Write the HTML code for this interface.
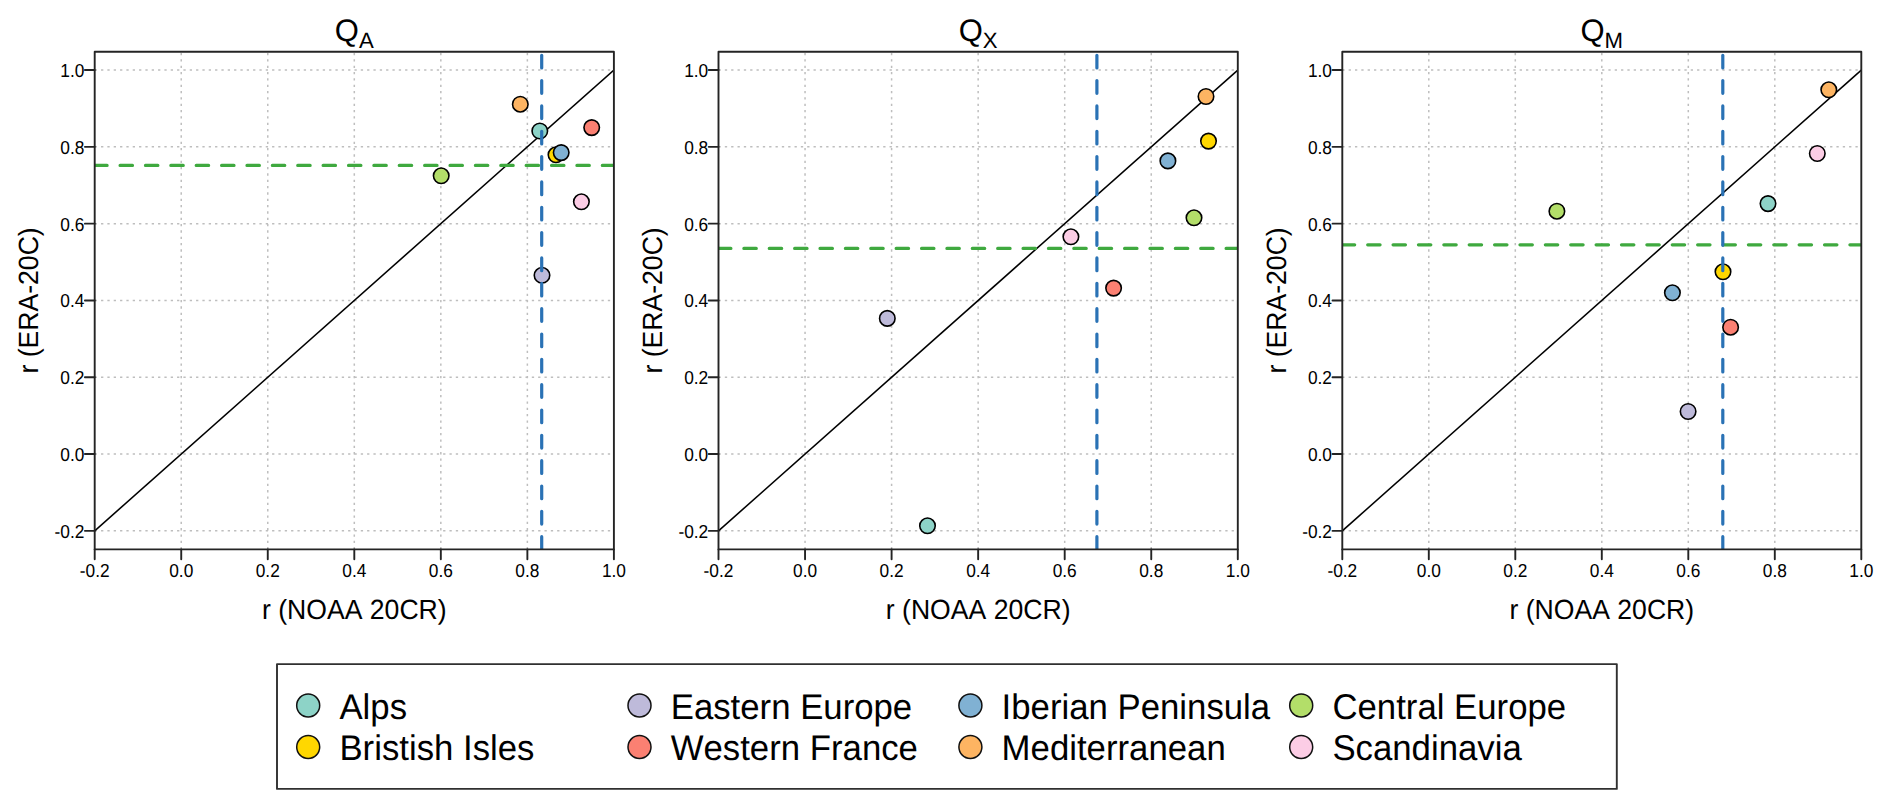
<!DOCTYPE html><html><head><meta charset="utf-8"><title>Correlation of reanalyses: QA, QX, QM</title><style>
html,body{margin:0;padding:0;background:#fff;width:1892px;height:809px;overflow:hidden}
svg{display:block}
text{font-family:"Liberation Sans", Arial, Helvetica, sans-serif;fill:#000;text-rendering:geometricPrecision;font-kerning:none;font-variant-ligatures:none}
</style></head><body>
<svg width="1892" height="809" viewBox="0 0 1892 809">
<defs>
<clipPath id="c0"><rect x="94.70" y="51.70" width="519.20" height="497.70"/></clipPath>
<clipPath id="c1"><rect x="718.50" y="51.70" width="519.30" height="497.70"/></clipPath>
<clipPath id="c2"><rect x="1342.30" y="51.70" width="519.00" height="497.70"/></clipPath>
</defs>
<rect x="0" y="0" width="1892" height="809" fill="#fff"/>
<g stroke="#bebebe" stroke-width="1.5" stroke-dasharray="2.3 4.035" stroke-linecap="butt"><line x1="94.70" y1="530.85" x2="613.90" y2="530.85"/><line x1="181.23" y1="549.40" x2="181.23" y2="51.70"/><line x1="94.70" y1="454.05" x2="613.90" y2="454.05"/><line x1="267.77" y1="549.40" x2="267.77" y2="51.70"/><line x1="94.70" y1="377.25" x2="613.90" y2="377.25"/><line x1="354.30" y1="549.40" x2="354.30" y2="51.70"/><line x1="94.70" y1="300.45" x2="613.90" y2="300.45"/><line x1="440.83" y1="549.40" x2="440.83" y2="51.70"/><line x1="94.70" y1="223.65" x2="613.90" y2="223.65"/><line x1="527.37" y1="549.40" x2="527.37" y2="51.70"/><line x1="94.70" y1="146.85" x2="613.90" y2="146.85"/><line x1="94.70" y1="70.05" x2="613.90" y2="70.05"/></g>
<g clip-path="url(#c0)">
<line x1="94.70" y1="530.85" x2="613.90" y2="70.05" stroke="#000" stroke-width="1.55"/>
<g stroke="#000" stroke-width="1.6"><circle cx="441.2" cy="175.8" r="7.75" fill="#B3DE69"/><circle cx="520.3" cy="104.2" r="7.75" fill="#FDB462"/><circle cx="539.8" cy="131.0" r="7.75" fill="#8DD3C7"/><circle cx="591.7" cy="127.6" r="7.75" fill="#FB8072"/><circle cx="556.0" cy="154.8" r="7.75" fill="#FFD700"/><circle cx="561.2" cy="152.6" r="7.75" fill="#80B1D3"/><circle cx="581.4" cy="201.8" r="7.75" fill="#FCCDE5"/><circle cx="542.0" cy="275.3" r="7.75" fill="#BEBADA"/></g>
<line x1="94.70" y1="165.40" x2="613.90" y2="165.40" stroke="#3FA93F" stroke-width="3.2" stroke-dasharray="12.4 12.98" stroke-linecap="round"/>
<line x1="541.70" y1="549.40" x2="541.70" y2="51.70" stroke="#2A72B5" stroke-width="3.2" stroke-dasharray="12.7 12.64" stroke-linecap="round"/>
</g>
<rect x="94.70" y="51.70" width="519.20" height="497.70" fill="none" stroke="#242424" stroke-width="1.9" stroke-linejoin="round"/>
<g stroke="#242424" stroke-width="1.9" stroke-linecap="round"><line x1="94.70" y1="549.40" x2="94.70" y2="559.20"/><line x1="84.90" y1="530.85" x2="94.70" y2="530.85"/><line x1="181.23" y1="549.40" x2="181.23" y2="559.20"/><line x1="84.90" y1="454.05" x2="94.70" y2="454.05"/><line x1="267.77" y1="549.40" x2="267.77" y2="559.20"/><line x1="84.90" y1="377.25" x2="94.70" y2="377.25"/><line x1="354.30" y1="549.40" x2="354.30" y2="559.20"/><line x1="84.90" y1="300.45" x2="94.70" y2="300.45"/><line x1="440.83" y1="549.40" x2="440.83" y2="559.20"/><line x1="84.90" y1="223.65" x2="94.70" y2="223.65"/><line x1="527.37" y1="549.40" x2="527.37" y2="559.20"/><line x1="84.90" y1="146.85" x2="94.70" y2="146.85"/><line x1="613.90" y1="549.40" x2="613.90" y2="559.20"/><line x1="84.90" y1="70.05" x2="94.70" y2="70.05"/></g>
<g font-size="18.4"><text transform="translate(94.70 577.00) scale(0.940 1.020)" text-anchor="middle">-0.2</text><text transform="translate(84.40 537.85) scale(0.940 1.020)" text-anchor="end">-0.2</text><text transform="translate(181.23 577.00) scale(0.940 1.020)" text-anchor="middle">0.0</text><text transform="translate(84.40 461.05) scale(0.940 1.020)" text-anchor="end">0.0</text><text transform="translate(267.77 577.00) scale(0.940 1.020)" text-anchor="middle">0.2</text><text transform="translate(84.40 384.25) scale(0.940 1.020)" text-anchor="end">0.2</text><text transform="translate(354.30 577.00) scale(0.940 1.020)" text-anchor="middle">0.4</text><text transform="translate(84.40 307.45) scale(0.940 1.020)" text-anchor="end">0.4</text><text transform="translate(440.83 577.00) scale(0.940 1.020)" text-anchor="middle">0.6</text><text transform="translate(84.40 230.65) scale(0.940 1.020)" text-anchor="end">0.6</text><text transform="translate(527.37 577.00) scale(0.940 1.020)" text-anchor="middle">0.8</text><text transform="translate(84.40 153.85) scale(0.940 1.020)" text-anchor="end">0.8</text><text transform="translate(613.90 577.00) scale(0.940 1.020)" text-anchor="middle">1.0</text><text transform="translate(84.40 77.05) scale(0.940 1.020)" text-anchor="end">1.0</text></g>
<text transform="translate(354.30 619.2) scale(1 1.045)" font-size="26.6" text-anchor="middle">r (NOAA 20CR)</text>
<text transform="translate(38.10 300.45) rotate(-90) scale(1 1.045)" font-size="26.6" text-anchor="middle">r (ERA-20C)</text>
<text x="354.30" y="41.4" font-size="31.0" text-anchor="middle">Q<tspan font-size="22.2" dy="6.4">A</tspan></text>
<g stroke="#bebebe" stroke-width="1.5" stroke-dasharray="2.3 4.035" stroke-linecap="butt"><line x1="718.50" y1="530.85" x2="1237.80" y2="530.85"/><line x1="805.05" y1="549.40" x2="805.05" y2="51.70"/><line x1="718.50" y1="454.05" x2="1237.80" y2="454.05"/><line x1="891.60" y1="549.40" x2="891.60" y2="51.70"/><line x1="718.50" y1="377.25" x2="1237.80" y2="377.25"/><line x1="978.15" y1="549.40" x2="978.15" y2="51.70"/><line x1="718.50" y1="300.45" x2="1237.80" y2="300.45"/><line x1="1064.70" y1="549.40" x2="1064.70" y2="51.70"/><line x1="718.50" y1="223.65" x2="1237.80" y2="223.65"/><line x1="1151.25" y1="549.40" x2="1151.25" y2="51.70"/><line x1="718.50" y1="146.85" x2="1237.80" y2="146.85"/><line x1="718.50" y1="70.05" x2="1237.80" y2="70.05"/></g>
<g clip-path="url(#c1)">
<line x1="718.50" y1="530.85" x2="1237.80" y2="70.05" stroke="#000" stroke-width="1.55"/>
<g stroke="#000" stroke-width="1.6"><circle cx="887.3" cy="318.4" r="7.75" fill="#BEBADA"/><circle cx="927.5" cy="525.8" r="7.75" fill="#8DD3C7"/><circle cx="1070.9" cy="236.8" r="7.75" fill="#FCCDE5"/><circle cx="1113.6" cy="288.1" r="7.75" fill="#FB8072"/><circle cx="1167.9" cy="160.9" r="7.75" fill="#80B1D3"/><circle cx="1194.0" cy="217.8" r="7.75" fill="#B3DE69"/><circle cx="1206.0" cy="96.5" r="7.75" fill="#FDB462"/><circle cx="1208.5" cy="141.1" r="7.75" fill="#FFD700"/></g>
<line x1="718.50" y1="248.40" x2="1237.80" y2="248.40" stroke="#3FA93F" stroke-width="3.2" stroke-dasharray="12.4 12.98" stroke-linecap="round"/>
<line x1="1096.90" y1="549.40" x2="1096.90" y2="51.70" stroke="#2A72B5" stroke-width="3.2" stroke-dasharray="12.7 12.64" stroke-linecap="round"/>
</g>
<rect x="718.50" y="51.70" width="519.30" height="497.70" fill="none" stroke="#242424" stroke-width="1.9" stroke-linejoin="round"/>
<g stroke="#242424" stroke-width="1.9" stroke-linecap="round"><line x1="718.50" y1="549.40" x2="718.50" y2="559.20"/><line x1="708.70" y1="530.85" x2="718.50" y2="530.85"/><line x1="805.05" y1="549.40" x2="805.05" y2="559.20"/><line x1="708.70" y1="454.05" x2="718.50" y2="454.05"/><line x1="891.60" y1="549.40" x2="891.60" y2="559.20"/><line x1="708.70" y1="377.25" x2="718.50" y2="377.25"/><line x1="978.15" y1="549.40" x2="978.15" y2="559.20"/><line x1="708.70" y1="300.45" x2="718.50" y2="300.45"/><line x1="1064.70" y1="549.40" x2="1064.70" y2="559.20"/><line x1="708.70" y1="223.65" x2="718.50" y2="223.65"/><line x1="1151.25" y1="549.40" x2="1151.25" y2="559.20"/><line x1="708.70" y1="146.85" x2="718.50" y2="146.85"/><line x1="1237.80" y1="549.40" x2="1237.80" y2="559.20"/><line x1="708.70" y1="70.05" x2="718.50" y2="70.05"/></g>
<g font-size="18.4"><text transform="translate(718.50 577.00) scale(0.940 1.020)" text-anchor="middle">-0.2</text><text transform="translate(708.20 537.85) scale(0.940 1.020)" text-anchor="end">-0.2</text><text transform="translate(805.05 577.00) scale(0.940 1.020)" text-anchor="middle">0.0</text><text transform="translate(708.20 461.05) scale(0.940 1.020)" text-anchor="end">0.0</text><text transform="translate(891.60 577.00) scale(0.940 1.020)" text-anchor="middle">0.2</text><text transform="translate(708.20 384.25) scale(0.940 1.020)" text-anchor="end">0.2</text><text transform="translate(978.15 577.00) scale(0.940 1.020)" text-anchor="middle">0.4</text><text transform="translate(708.20 307.45) scale(0.940 1.020)" text-anchor="end">0.4</text><text transform="translate(1064.70 577.00) scale(0.940 1.020)" text-anchor="middle">0.6</text><text transform="translate(708.20 230.65) scale(0.940 1.020)" text-anchor="end">0.6</text><text transform="translate(1151.25 577.00) scale(0.940 1.020)" text-anchor="middle">0.8</text><text transform="translate(708.20 153.85) scale(0.940 1.020)" text-anchor="end">0.8</text><text transform="translate(1237.80 577.00) scale(0.940 1.020)" text-anchor="middle">1.0</text><text transform="translate(708.20 77.05) scale(0.940 1.020)" text-anchor="end">1.0</text></g>
<text transform="translate(978.15 619.2) scale(1 1.045)" font-size="26.6" text-anchor="middle">r (NOAA 20CR)</text>
<text transform="translate(661.90 300.45) rotate(-90) scale(1 1.045)" font-size="26.6" text-anchor="middle">r (ERA-20C)</text>
<text x="978.15" y="41.4" font-size="31.0" text-anchor="middle">Q<tspan font-size="22.2" dy="6.4">X</tspan></text>
<g stroke="#bebebe" stroke-width="1.5" stroke-dasharray="2.3 4.035" stroke-linecap="butt"><line x1="1342.30" y1="530.85" x2="1861.30" y2="530.85"/><line x1="1428.80" y1="549.40" x2="1428.80" y2="51.70"/><line x1="1342.30" y1="454.05" x2="1861.30" y2="454.05"/><line x1="1515.30" y1="549.40" x2="1515.30" y2="51.70"/><line x1="1342.30" y1="377.25" x2="1861.30" y2="377.25"/><line x1="1601.80" y1="549.40" x2="1601.80" y2="51.70"/><line x1="1342.30" y1="300.45" x2="1861.30" y2="300.45"/><line x1="1688.30" y1="549.40" x2="1688.30" y2="51.70"/><line x1="1342.30" y1="223.65" x2="1861.30" y2="223.65"/><line x1="1774.80" y1="549.40" x2="1774.80" y2="51.70"/><line x1="1342.30" y1="146.85" x2="1861.30" y2="146.85"/><line x1="1342.30" y1="70.05" x2="1861.30" y2="70.05"/></g>
<g clip-path="url(#c2)">
<line x1="1342.30" y1="530.85" x2="1861.30" y2="70.05" stroke="#000" stroke-width="1.55"/>
<g stroke="#000" stroke-width="1.6"><circle cx="1556.9" cy="211.2" r="7.75" fill="#B3DE69"/><circle cx="1672.4" cy="292.8" r="7.75" fill="#80B1D3"/><circle cx="1688.1" cy="411.5" r="7.75" fill="#BEBADA"/><circle cx="1723.0" cy="271.8" r="7.75" fill="#FFD700"/><circle cx="1730.6" cy="327.2" r="7.75" fill="#FB8072"/><circle cx="1768.0" cy="203.6" r="7.75" fill="#8DD3C7"/><circle cx="1817.3" cy="153.5" r="7.75" fill="#FCCDE5"/><circle cx="1828.8" cy="89.8" r="7.75" fill="#FDB462"/></g>
<line x1="1342.30" y1="244.80" x2="1861.30" y2="244.80" stroke="#3FA93F" stroke-width="3.2" stroke-dasharray="12.4 12.98" stroke-linecap="round"/>
<line x1="1722.80" y1="549.40" x2="1722.80" y2="51.70" stroke="#2A72B5" stroke-width="3.2" stroke-dasharray="12.7 12.64" stroke-linecap="round"/>
</g>
<rect x="1342.30" y="51.70" width="519.00" height="497.70" fill="none" stroke="#242424" stroke-width="1.9" stroke-linejoin="round"/>
<g stroke="#242424" stroke-width="1.9" stroke-linecap="round"><line x1="1342.30" y1="549.40" x2="1342.30" y2="559.20"/><line x1="1332.50" y1="530.85" x2="1342.30" y2="530.85"/><line x1="1428.80" y1="549.40" x2="1428.80" y2="559.20"/><line x1="1332.50" y1="454.05" x2="1342.30" y2="454.05"/><line x1="1515.30" y1="549.40" x2="1515.30" y2="559.20"/><line x1="1332.50" y1="377.25" x2="1342.30" y2="377.25"/><line x1="1601.80" y1="549.40" x2="1601.80" y2="559.20"/><line x1="1332.50" y1="300.45" x2="1342.30" y2="300.45"/><line x1="1688.30" y1="549.40" x2="1688.30" y2="559.20"/><line x1="1332.50" y1="223.65" x2="1342.30" y2="223.65"/><line x1="1774.80" y1="549.40" x2="1774.80" y2="559.20"/><line x1="1332.50" y1="146.85" x2="1342.30" y2="146.85"/><line x1="1861.30" y1="549.40" x2="1861.30" y2="559.20"/><line x1="1332.50" y1="70.05" x2="1342.30" y2="70.05"/></g>
<g font-size="18.4"><text transform="translate(1342.30 577.00) scale(0.940 1.020)" text-anchor="middle">-0.2</text><text transform="translate(1332.00 537.85) scale(0.940 1.020)" text-anchor="end">-0.2</text><text transform="translate(1428.80 577.00) scale(0.940 1.020)" text-anchor="middle">0.0</text><text transform="translate(1332.00 461.05) scale(0.940 1.020)" text-anchor="end">0.0</text><text transform="translate(1515.30 577.00) scale(0.940 1.020)" text-anchor="middle">0.2</text><text transform="translate(1332.00 384.25) scale(0.940 1.020)" text-anchor="end">0.2</text><text transform="translate(1601.80 577.00) scale(0.940 1.020)" text-anchor="middle">0.4</text><text transform="translate(1332.00 307.45) scale(0.940 1.020)" text-anchor="end">0.4</text><text transform="translate(1688.30 577.00) scale(0.940 1.020)" text-anchor="middle">0.6</text><text transform="translate(1332.00 230.65) scale(0.940 1.020)" text-anchor="end">0.6</text><text transform="translate(1774.80 577.00) scale(0.940 1.020)" text-anchor="middle">0.8</text><text transform="translate(1332.00 153.85) scale(0.940 1.020)" text-anchor="end">0.8</text><text transform="translate(1861.30 577.00) scale(0.940 1.020)" text-anchor="middle">1.0</text><text transform="translate(1332.00 77.05) scale(0.940 1.020)" text-anchor="end">1.0</text></g>
<text transform="translate(1601.80 619.2) scale(1 1.045)" font-size="26.6" text-anchor="middle">r (NOAA 20CR)</text>
<text transform="translate(1285.70 300.45) rotate(-90) scale(1 1.045)" font-size="26.6" text-anchor="middle">r (ERA-20C)</text>
<text x="1601.80" y="41.4" font-size="31.0" text-anchor="middle">Q<tspan font-size="22.2" dy="6.4">M</tspan></text>
<rect x="277.00" y="664.10" width="1339.80" height="124.80" fill="none" stroke="#303030" stroke-width="1.9" stroke-linejoin="round"/>
<g stroke="#111" stroke-width="1.5"><circle cx="308.2" cy="705.5" r="11.5" fill="#8DD3C7"/><circle cx="308.2" cy="747.0" r="11.5" fill="#FFD700"/><circle cx="639.5" cy="705.5" r="11.5" fill="#BEBADA"/><circle cx="639.5" cy="747.0" r="11.5" fill="#FB8072"/><circle cx="970.4" cy="705.5" r="11.5" fill="#80B1D3"/><circle cx="970.4" cy="747.0" r="11.5" fill="#FDB462"/><circle cx="1301.2" cy="705.5" r="11.5" fill="#B3DE69"/><circle cx="1301.2" cy="747.0" r="11.5" fill="#FCCDE5"/></g>
<g font-size="35.0"><text transform="translate(339.4 718.5) scale(0.993 1.020)">Alps</text><text transform="translate(339.4 760.0) scale(0.993 1.020)">Bristish Isles</text><text transform="translate(670.7 718.5) scale(0.993 1.020)">Eastern Europe</text><text transform="translate(670.7 760.0) scale(0.993 1.020)">Western France</text><text transform="translate(1001.6 718.5) scale(0.993 1.020)">Iberian Peninsula</text><text transform="translate(1001.6 760.0) scale(0.993 1.020)">Mediterranean</text><text transform="translate(1332.4 718.5) scale(0.993 1.020)">Central Europe</text><text transform="translate(1332.4 760.0) scale(0.993 1.020)">Scandinavia</text></g>
</svg></body></html>
